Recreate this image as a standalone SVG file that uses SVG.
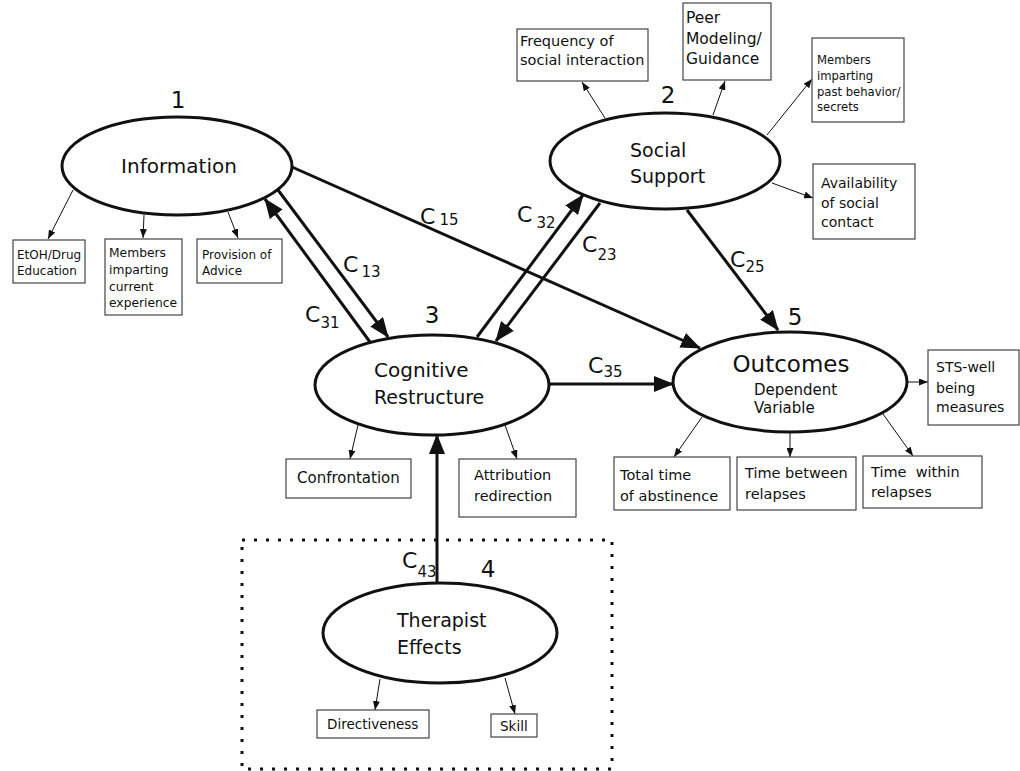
<svg xmlns="http://www.w3.org/2000/svg" width="1020" height="771" viewBox="0 0 1020 771">
<defs>
<marker id="bold" viewBox="0 0 20 16" refX="19" refY="8" markerWidth="20" markerHeight="16" markerUnits="userSpaceOnUse" orient="auto"><path d="M0,0 L20,8 L0,16 z" fill="#111"/></marker>
<marker id="thin" viewBox="0 0 9 7" refX="9" refY="3.5" markerWidth="9" markerHeight="7" markerUnits="userSpaceOnUse" orient="auto"><path d="M0,0 L9,3.5 L0,7 z" fill="#111"/></marker>
<style>
text{font-family:"DejaVu Sans","Liberation Sans",sans-serif;fill:#111}
.ell{fill:#fff;stroke:#111;stroke-width:3}
.box{fill:#fff;stroke:#444;stroke-width:1.2}
.big{stroke:#111;stroke-width:3;fill:none;marker-end:url(#bold)}
.sm{stroke:#111;stroke-width:1;fill:none;marker-end:url(#thin)}
.num{font-size:23px;text-anchor:middle}
.c{font-size:22px}
.sub{font-size:15px}
</style>
</defs>
<rect width="1020" height="771" fill="#fff"/>

<g id="connectors">
<line class="big" x1="370" y1="342" x2="265" y2="199"/>
<line class="big" x1="278" y1="190" x2="388" y2="337"/>
<line class="big" x1="477" y1="337" x2="583" y2="195"/>
<line class="big" x1="600" y1="203" x2="496" y2="341"/>
<line class="big" x1="292" y1="167" x2="700" y2="348"/>
<line class="big" x1="687" y1="210" x2="778" y2="330"/>
<line class="big" x1="549" y1="384" x2="673" y2="384"/>
<line class="big" x1="437" y1="583" x2="437" y2="435"/>
<line class="sm" x1="73" y1="190" x2="48" y2="239"/>
<line class="sm" x1="144" y1="215" x2="143" y2="238"/>
<line class="sm" x1="228" y1="212" x2="238" y2="238"/>
<line class="sm" x1="605" y1="118" x2="582" y2="82"/>
<line class="sm" x1="713" y1="115" x2="725" y2="81"/>
<line class="sm" x1="767" y1="135" x2="812" y2="79"/>
<line class="sm" x1="772" y1="183" x2="813" y2="198"/>
<line class="sm" x1="358" y1="425" x2="350" y2="459"/>
<line class="sm" x1="505" y1="425" x2="517" y2="459"/>
<line class="sm" x1="702" y1="417" x2="674" y2="457"/>
<line class="sm" x1="790" y1="432" x2="790" y2="457"/>
<line class="sm" x1="883" y1="414" x2="913" y2="456"/>
<line class="sm" x1="908" y1="382" x2="928" y2="382"/>
<line class="sm" x1="380" y1="679" x2="375" y2="710"/>
<line class="sm" x1="505" y1="678" x2="515" y2="714"/>
<text x="305" y="322"><tspan class="c">C</tspan><tspan class="sub" dy="6">31</tspan></text>
<text x="343" y="272"><tspan class="c">C</tspan><tspan class="sub" dx="3" dy="5">13</tspan></text>
<text x="420" y="224"><tspan class="c">C</tspan><tspan class="sub" dx="4" dy="1">15</tspan></text>
<text x="517" y="222"><tspan class="c">C</tspan><tspan class="sub" dx="4" dy="6">32</tspan></text>
<text x="582" y="252"><tspan class="c">C</tspan><tspan class="sub" dy="8">23</tspan></text>
<text x="730" y="267"><tspan class="c">C</tspan><tspan class="sub" dy="5">25</tspan></text>
<text x="588" y="373"><tspan class="c">C</tspan><tspan class="sub" dy="4">35</tspan></text>
<text x="402" y="568"><tspan class="c">C</tspan><tspan class="sub" dy="9">43</tspan></text>
</g>

<rect id="therapist-group" x="242" y="540" width="370" height="229" fill="none" stroke="#111" stroke-width="3" stroke-dasharray="3 9"/>

<g id="information">
<ellipse class="ell" cx="177" cy="166" rx="115" ry="49"/>
<text x="179" y="173" font-size="20" text-anchor="middle">Information</text>
<text class="num" x="178" y="108">1</text>
</g>
<g id="social-support">
<ellipse class="ell" cx="665" cy="161" rx="115" ry="48"/>
<text x="630" y="157" font-size="19">Social</text>
<text x="630" y="183" font-size="19">Support</text>
<text class="num" x="668" y="103">2</text>
</g>
<g id="cognitive-restructure">
<ellipse class="ell" cx="432" cy="385" rx="117" ry="50"/>
<text x="374" y="377" font-size="20">Cognitive</text>
<text x="374" y="404" font-size="19">Restructure</text>
<text class="num" x="432" y="323">3</text>
</g>
<g id="therapist-effects">
<ellipse class="ell" cx="440" cy="633" rx="117" ry="50"/>
<text x="397" y="627" font-size="19">Therapist</text>
<text x="397" y="654" font-size="19">Effects</text>
<text class="num" x="488" y="577">4</text>
</g>
<g id="outcomes">
<ellipse class="ell" cx="790" cy="382" rx="117" ry="50"/>
<text x="791" y="372" font-size="23" text-anchor="middle">Outcomes</text>
<text x="754" y="395" font-size="15">Dependent</text>
<text x="754" y="413" font-size="15">Variable</text>
<text class="num" x="795" y="325">5</text>
</g>

<g id="etoh-education">
<rect class="box" x="13" y="240" width="72" height="43"/>
<text x="17" y="259" font-size="12">EtOH/Drug</text>
<text x="17" y="275" font-size="12">Education</text>
</g>
<g id="members-current">
<rect class="box" x="105" y="239" width="77" height="76"/>
<text x="109" y="257" font-size="12.3">Members</text>
<text x="109" y="274" font-size="12.3">imparting</text>
<text x="109" y="291" font-size="12.3">current</text>
<text x="109" y="307" font-size="12.3">experience</text>
</g>
<g id="provision-advice">
<rect class="box" x="197" y="239" width="85" height="44"/>
<text x="202" y="259" font-size="12">Provision of</text>
<text x="202" y="275" font-size="12">Advice</text>
</g>
<g id="frequency">
<rect class="box" x="517" y="29" width="131" height="52"/>
<text x="520" y="46" font-size="14.5">Frequency of</text>
<text x="520" y="65" font-size="14.5">social interaction</text>
</g>
<g id="peer-modeling">
<rect class="box" x="683" y="3" width="88" height="77"/>
<text x="686" y="23" font-size="15.5">Peer</text>
<text x="686" y="44" font-size="15.5">Modeling/</text>
<text x="686" y="64" font-size="15.5">Guidance</text>
</g>
<g id="members-past">
<rect class="box" x="812" y="38" width="92" height="84"/>
<text x="817" y="64" font-size="11.6">Members</text>
<text x="817" y="80" font-size="11.6">imparting</text>
<text x="817" y="96" font-size="11.6">past behavior/</text>
<text x="817" y="111" font-size="11.6">secrets</text>
</g>
<g id="availability">
<rect class="box" x="813" y="164" width="102" height="75"/>
<text x="821" y="188" font-size="14">Availability</text>
<text x="821" y="208" font-size="14">of social</text>
<text x="821" y="227" font-size="14">contact</text>
</g>
<g id="confrontation">
<rect class="box" x="286" y="459" width="125" height="39"/>
<text x="297" y="483" font-size="15">Confrontation</text>
</g>
<g id="attribution">
<rect class="box" x="459" y="459" width="117" height="58"/>
<text x="474" y="480" font-size="14.5">Attribution</text>
<text x="474" y="501" font-size="14.5">redirection</text>
</g>
<g id="sts">
<rect class="box" x="928" y="350" width="91" height="75"/>
<text x="936" y="372" font-size="14">STS-well</text>
<text x="936" y="393" font-size="14">being</text>
<text x="936" y="412" font-size="14">measures</text>
</g>
<g id="total-time">
<rect class="box" x="614" y="457" width="116" height="53"/>
<text x="620" y="480" font-size="14.5">Total time</text>
<text x="620" y="501" font-size="14.5">of abstinence</text>
</g>
<g id="time-between">
<rect class="box" x="737" y="457" width="119" height="53"/>
<text x="745" y="478" font-size="14.5">Time between</text>
<text x="745" y="499" font-size="14.5">relapses</text>
</g>
<g id="time-within">
<rect class="box" x="863" y="456" width="119" height="52"/>
<text x="871" y="477" font-size="14.5" xml:space="preserve">Time  within</text>
<text x="871" y="497" font-size="14.5">relapses</text>
</g>
<g id="directiveness">
<rect class="box" x="317" y="710" width="112" height="28"/>
<text x="327" y="729" font-size="13.5">Directiveness</text>
</g>
<g id="skill">
<rect class="box" x="491" y="714" width="46" height="23"/>
<text x="500" y="731" font-size="13.5">Skill</text>
</g>
</svg>
